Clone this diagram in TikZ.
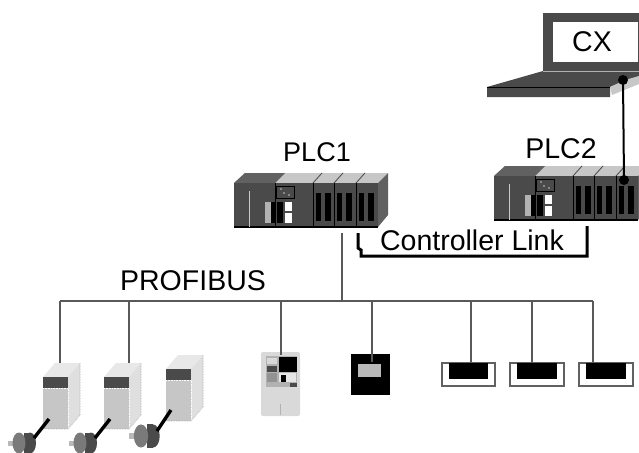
\documentclass[tikz,border=0pt]{standalone}
\usepackage{fontspec}
\setmainfont{Liberation Sans}
\definecolor{plcdark}{gray}{0.29}
\definecolor{plcmid}{gray}{0.38}
\definecolor{plclight}{gray}{0.78}
\definecolor{wire}{gray}{0.35}
\definecolor{motorface}{gray}{0.48}
\tikzset{
  label text/.style={inner sep=0pt,font=\fontsize{28.5}{30}\selectfont},
  anchor dot/.style={circle,fill=black,inner sep=0pt,minimum size=10pt},
  port/.style={inner sep=0pt,minimum size=0.5pt},
  bus/.style={draw=wire,line width=2.8pt},
  link/.style={draw=black,line width=3pt,line join=miter},
  plc/.pic={
    \fill[plclight] (11,-10) -- (154,-10) -- (144,0) -- (0,0) -- cycle;
    \fill[plcmid] (11,-10) -- (51,-10) -- (41,0) -- (0,0) -- cycle;
    \fill[plcmid] (144,0) -- (154,-10) -- (154,32) -- (144,44) -- cycle;
    \fill[plcdark] (0,0) rectangle (144,44);
    \draw[black,line width=1.2pt] (0,44) -- (144,44);
    \draw[plclight,line width=1pt] (15,8) -- (15,44);
    \fill[gray!60] (31,19) rectangle (37,40);
    \fill[black] (37,19) rectangle (41,40);
    \draw[black,line width=.6pt] (41,0) -- (41,44);
    \draw[black,line width=.8pt] (42,3) rectangle (60,15);
    \foreach \u/\v in {47/6,50/10,55/12} \fill[plclight] (\u,\v) circle (0.9pt);
    \fill[black] (43,19) rectangle (49,40);
    \fill[white] (51,19) rectangle (58,28);
    \fill[white] (51,30) rectangle (58,40);
    \foreach \o in {79,100,122} {
      \begin{scope}[shift={(\o,0)}]
        \draw[black,line width=.8pt] (0,0) -- (0,44);
        \fill[black] (3,10) rectangle (8,38);
        \fill[black] (12,10) rectangle (18,38);
        \draw[plcdark,line width=.8pt] (0,0) -- (9,-10);
      \end{scope}
    }
  },
  drive/.pic={
    \fill[gray!18] (0,0) -- (12,-14) -- (37,-14) -- (25,0) -- cycle;
    \fill[gray!25] (25,0) -- (37,-14) -- (37,38) -- (25,52) -- cycle;
    \fill[gray!45] (0,0) rectangle (25,52);
    \fill[plcdark] (0,0) rectangle (25,11);
    \draw[white,densely dotted,line width=.6pt] (0,11) -- (25,11) -- (25,52);
    \draw[gray!70,densely dotted,line width=.6pt] (37,-14) -- (37,38) -- (25,52) -- (0,52);
  },
  motor/.pic={
    \fill[gray!55] (-11,-2.5) rectangle (-3,2.5);
    \fill[plcdark] (5,-10.5) rectangle (11,10.5);
    \fill[plcdark] (11,0) ellipse (6pt and 10.5pt);
    \fill[motorface] (0,0) ellipse (6.5pt and 10.5pt);
  },
  whitebox/.pic={
    \draw[plcmid,line width=1.4pt,fill=white] (0,0) rectangle (\pgfkeysvalueof{/tikz/boxw},23);
    \fill[black] (7,0) rectangle (\pgfkeysvalueof{/tikz/boxw}-7,16);
  },
  boxw/.initial=53
}
\begin{document}
\begin{tikzpicture}[x=1pt,y=-1pt]
\useasboundingbox (0,0) rectangle (639,452);
\clip (0,0) rectangle (639,452);
\fill[white] (0,0) rectangle (639,452);

% laptop
\fill[plcdark] (543,13) rectangle (645,71);
\fill[white] (553,22) rectangle (638,62);
\fill[plcdark] (487,87) -- (543,71) -- (645,71) -- (639,76) -- (610,87) -- (610,97) -- (487,97) -- cycle;
\fill[plclight] (610,87) -- (625,80) -- (639,76) -- (639,84) -- (612,95) -- cycle;
\draw[black,line width=.8pt] (487,87) -- (610,87);
\draw[gray!60,line width=.6pt] (543,71) -- (639,71);
\node[label text] (cx) at (592,42) {CX};

% PLCs
\pic at (234,183) {plc};
\pic at (494,176) {plc};
\node[label text,font=\fontsize{27}{29}\selectfont] (plc1) at (317,152) {PLC1};
\node[label text] (plc2) at (561,149) {PLC2};

% field devices
\pic at (43,377) {drive};
\pic at (104,377) {drive};
\pic at (166,369) {drive};
\pic at (19,443) {motor};
\pic at (80,443) {motor};
\pic[scale=1.1] at (141,436) {motor};

\fill[gray!30,rounded corners=2pt] (261,352) rectangle (300,416);
\fill[gray!60] (266,356) rectangle (297,387);
\fill[black] (279,357) rectangle (297,372);
\fill[gray!30] (267,358) rectangle (277,364);
\fill[plcdark] (267,366) rectangle (277,372);
\fill[gray!85] (267,373) rectangle (277,382);
\fill[gray!20] (279,373) rectangle (296,382);
\fill[black] (281,375) rectangle (286,382);
\fill[plcdark] (290,383) rectangle (297,387);
\draw[gray!60,line width=.6pt] (280,404) -- (280,415);

\fill[black] (351,354) rectangle (390,395);
\fill[gray!55] (358,364) rectangle (381,377);

\pic at (442,363) {whitebox};
\pic[boxw=54] at (510,363) {whitebox};
\pic[boxw=54] at (579,363) {whitebox};

% named connection points
\node[port] (bustap) at (342,301) {};
\node[port] (plcout) at (342,233) {};
\node[port] (busl) at (60,301) {};
\node[port] (busr) at (593,301) {};
\node[port] (d1) at (60,363) {};
\node[port] (d2) at (129,363) {};
\node[port] (b1) at (129,301) {};
\node[port] (m) at (281,355) {};
\node[port] (b2) at (281,301) {};
\node[port] (k) at (372,362) {};
\node[port] (b3) at (372,301) {};
\node[port] (w1) at (471,363) {};
\node[port] (b4) at (471,301) {};
\node[port] (w2) at (532,363) {};
\node[port] (b5) at (532,301) {};
\node[port] (w3) at (593,363) {};
\node[port] (ls) at (358,233) {};
\node[port] (le) at (587,226) {};
\node[port] (s1) at (49,419) {};
\node[port] (e1) at (34,438) {};
\node[port] (s2) at (110,419) {};
\node[port] (e2) at (95,438) {};
\node[port] (s3) at (171,410) {};
\node[port] (e3) at (157,431) {};
\node[anchor dot] (dotu) at (623,80) {};
\node[anchor dot] (dotl) at (624,180) {};

% bus
\draw[bus] (busl.center) -- (busr.center);
\draw[bus] (busl.center) -- (d1.center);
\draw[bus] (b1.center) -- (d2.center);
\draw[bus] (b2.center) -- (m.center);
\draw[bus] (b3.center) -- (k.center);
\draw[bus] (b4.center) -- (w1.center);
\draw[bus] (b5.center) -- (w2.center);
\draw[bus] (busr.center) -- (w3.center);
\draw[bus] (plcout.center) -- (bustap.center);

% motor shafts
\draw[black,line width=3.4pt] (s1.center) -- (e1.center);
\draw[black,line width=3.4pt] (s2.center) -- (e2.center);
\draw[black,line width=3.4pt] (s3.center) -- (e3.center);

% controller link and programming cable
\draw[link] (ls.center) -- (358,248) -- (361,250) -- (361,256) -- (587,256) -- (le.center);
\draw[black,line width=2pt] (dotu.center) -- (dotl.center);

\node[label text] (ctl) at (472,240) {Controller Link};
\node[label text] (pb) at (193,281) {PROFIBUS};
\end{tikzpicture}
\end{document}
